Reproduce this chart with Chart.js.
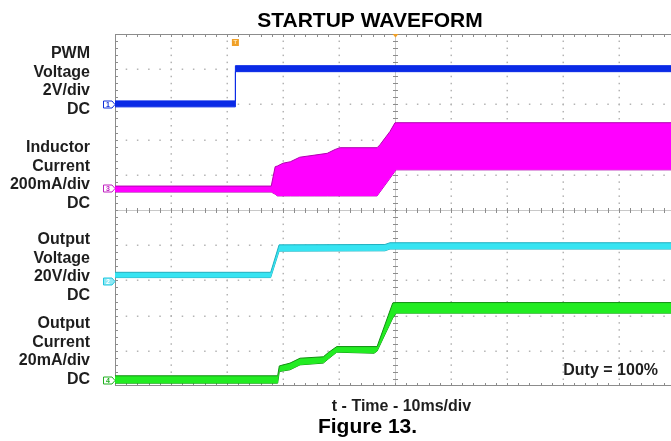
<!DOCTYPE html>
<html>
<head>
<meta charset="utf-8">
<script src="https://cdn.jsdelivr.net/npm/chart.js@4.4.0/dist/chart.umd.min.js"></script>
<style>
  html, body { margin: 0; padding: 0; background: #fff; overflow: hidden; }
  canvas { display: block; }
</style>
</head>
<body>
<canvas id="scope" width="680" height="441"></canvas>
<script>
// time in ms (10 ms/div), levels in screen divisions from the bottom of the graticule
const pwmTime   = [0, 21.5, 21.5, 100];
const pwmTop    = [8.10, 8.10, 9.10, 9.10];
const pwmBottom = [7.93, 7.93, 8.93, 8.93];

const inductorTime   = [0, 27.9, 28.6, 29.0, 30.0, 31.3, 33.0, 35.7, 37.9, 39.3, 40.2, 46.8, 47.3, 49.1, 50.0, 50.2, 100];
const inductorTop    = [5.68, 5.68, 6.23, 6.25, 6.33, 6.37, 6.50, 6.56, 6.61, 6.72, 6.77, 6.77, 6.85, 7.23, 7.48, 7.48, 7.48];
const inductorBottom = [5.51, 5.51, 5.45, 5.40, 5.40, 5.40, 5.40, 5.40, 5.40, 5.40, 5.40, 5.40, 5.51, 5.90, 6.10, 6.14, 6.14];

const voutTime   = [0, 27.8, 29.3, 48.2, 49.1, 100];
const voutTop    = [3.23, 3.23, 4.01, 4.02, 4.07, 4.07];
const voutBottom = [3.08, 3.08, 3.83, 3.84, 3.89, 3.89];

const ioutTime   = [0, 29.05, 29.34, 31.25, 33.04, 37.2, 38.1, 39.6, 46.25, 46.8, 49.6, 50.2, 100];
const ioutTop    = [0.29, 0.29, 0.57, 0.65, 0.79, 0.83, 0.95, 1.12, 1.12, 1.12, 2.36, 2.37, 2.37];
const ioutBottom = [0.08, 0.08, 0.41, 0.46, 0.60, 0.65, 0.77, 0.96, 0.93, 0.99, 1.93, 2.07, 2.07];

// ground markers on the left edge
const channelNames  = ['1', '3', '2', '4'];
const channelLevels = [8.0, 5.63, 2.98, 0.16];
const channelColors = ['#1030d8', '#c020c0', '#20c8e0', '#20b020'];

const triggerTime = 21.5;
const triggerPos = 50;

const sideLabels = [
  ['PWM', 'Voltage', '2V/div', 'DC'],
  ['Inductor', 'Current', '200mA/div', 'DC'],
  ['Output', 'Voltage', '20V/div', 'DC'],
  ['Output', 'Current', '20mA/div', 'DC']
];
const sideLabelTops = [58.3, 152.3, 244, 328.3];

const FONT = '"Liberation Sans", Arial, Helvetica, sans-serif';

function band(name, time, top, bottom, fillColor, edgeColor) {
  const pts = (arr) => time.map((t, i) => ({ x: t, y: arr[i] }));
  return [
    { label: name + ' top', data: pts(top), borderColor: edgeColor, borderWidth: 1, backgroundColor: fillColor, fill: '+1' },
    { label: name + ' bottom', data: pts(bottom), borderColor: edgeColor, borderWidth: 1, fill: false }
  ];
}

// scope graticule, drawn under the traces
const graticule = {
  id: 'graticule',
  beforeDatasetsDraw(chart) {
    const ctx = chart.ctx, sx = chart.scales.x, sy = chart.scales.y;
    const ca = chart.chartArea;
    ctx.save();
    // dotted grid lines
    ctx.fillStyle = '#b4b4b4';
    for (let i = 1; i < 10; i++) {
      const px = Math.round(sx.getPixelForValue(i * 10));
      const py = Math.round(sy.getPixelForValue(i));
      for (let j = 1; j < 50; j++) {
        const my = sy.getPixelForValue(j / 5);
        const mx = sx.getPixelForValue(j * 2);
        if (i !== 5) {
          ctx.fillRect(px - 0.5, my - 0.5, 1.5, 1.5);
          ctx.fillRect(mx - 0.5, py - 0.5, 1.5, 1.5);
        }
      }
    }
    // centre axes
    const cx = Math.round(sx.getPixelForValue(50)) + 0.5;
    const cy = Math.round(sy.getPixelForValue(5)) + 0.5;
    ctx.strokeStyle = '#c8c8c8';
    ctx.lineWidth = 1;
    ctx.beginPath();
    ctx.moveTo(cx, ca.top); ctx.lineTo(cx, ca.bottom);
    ctx.moveTo(ca.left, cy); ctx.lineTo(ca.right, cy);
    ctx.stroke();
    ctx.strokeStyle = '#8c8c8c';
    ctx.beginPath();
    for (let j = 1; j < 50; j++) {
      const mx = Math.round(sx.getPixelForValue(j * 2)) + 0.5;
      const my = Math.round(sy.getPixelForValue(j / 5)) + 0.5;
      ctx.moveTo(mx, cy - 2.5); ctx.lineTo(mx, cy + 2.5);
      ctx.moveTo(cx - 2.5, my); ctx.lineTo(cx + 2.5, my);
      // frame ticks
      ctx.moveTo(mx, ca.top); ctx.lineTo(mx, ca.top + 3);
      ctx.moveTo(mx, ca.bottom); ctx.lineTo(mx, ca.bottom - 3);
      ctx.moveTo(ca.left, my); ctx.lineTo(ca.left + 3, my);
    }
    ctx.stroke();
    // frame
    ctx.strokeStyle = '#8c8c8c';
    ctx.strokeRect(Math.round(ca.left) + 0.5, Math.round(ca.top) + 0.5, ca.width, Math.round(ca.height) - 1);
    ctx.restore();
  },
  afterDraw(chart) {
    const ctx = chart.ctx, sx = chart.scales.x, sy = chart.scales.y;
    const ca = chart.chartArea;
    ctx.save();
    // ground markers
    channelLevels.forEach((lv, i) => {
      const y = Math.round(sy.getPixelForValue(lv)) + 0.5;
      const x0 = ca.left - 11.5;
      ctx.beginPath();
      ctx.moveTo(x0, y - 3.5);
      ctx.lineTo(ca.left - 3, y - 3.5);
      ctx.lineTo(ca.left, y);
      ctx.lineTo(ca.left - 3, y + 3.5);
      ctx.lineTo(x0, y + 3.5);
      ctx.closePath();
      ctx.fillStyle = channelNames[i] === '2' ? '#8ee8f4' : '#fff';
      ctx.fill();
      ctx.strokeStyle = channelColors[i];
      ctx.lineWidth = 1;
      ctx.stroke();
      ctx.fillStyle = channelNames[i] === '2' ? '#fff' : channelColors[i];
      ctx.font = 'bold 7px ' + FONT;
      ctx.textAlign = 'center';
      ctx.textBaseline = 'middle';
      ctx.fillText(channelNames[i], x0 + 4.5, y + 0.5);
    });
    // trigger markers
    const tx = sx.getPixelForValue(triggerTime);
    ctx.fillStyle = '#f0a028';
    ctx.fillRect(tx - 3.5, ca.top + 5, 7, 7);
    ctx.fillStyle = '#ffe6b0';
    ctx.font = 'bold 6px ' + FONT;
    ctx.textAlign = 'center';
    ctx.textBaseline = 'middle';
    ctx.fillText('T', tx, ca.top + 8.8);
    const px = sx.getPixelForValue(triggerPos) + 0.5;
    ctx.fillStyle = '#f0a028';
    ctx.beginPath();
    ctx.moveTo(px - 3, ca.top);
    ctx.lineTo(px + 3, ca.top);
    ctx.lineTo(px, ca.top + 3.5);
    ctx.closePath();
    ctx.fill();

    // texts
    ctx.textBaseline = 'alphabetic';
    ctx.fillStyle = '#000';
    ctx.font = 'bold 21px ' + FONT;
    ctx.textAlign = 'center';
    ctx.fillText('STARTUP WAVEFORM', 370, 26.7);

    ctx.fillStyle = '#1e1e1e';
    ctx.font = 'bold 16px ' + FONT;
    ctx.textAlign = 'right';
    sideLabels.forEach((lines, b) => {
      lines.forEach((ln, k) => ctx.fillText(ln, 90, sideLabelTops[b] + k * 18.5));
    });
    ctx.fillText('Duty = 100%', 658, 375);

    ctx.textAlign = 'center';
    ctx.font = 'bold 16px ' + FONT;
    ctx.fillText('t - Time - 10ms/div', 401.5, 410.7);
    ctx.fillStyle = '#000';
    ctx.font = 'bold 21px ' + FONT;
    ctx.fillText('Figure 13.', 367.5, 433);
    ctx.restore();
  }
};

const datasets = [
  ...band('PWM Voltage', pwmTime, pwmTop, pwmBottom, '#0a2ae6', '#0a2ae6'),
  ...band('Inductor Current', inductorTime, inductorTop, inductorBottom, '#ff00ff', '#b000b0'),
  ...band('Output Voltage', voutTime, voutTop, voutBottom, '#36e4f2', '#20b0c0'),
  ...band('Output Current', ioutTime, ioutTop, ioutBottom, '#22ec22', '#109010')
];

new Chart(document.getElementById('scope').getContext('2d'), {
  type: 'line',
  data: { datasets: datasets },
  options: {
    responsive: false,
    animation: false,
    layout: { padding: { left: 115, right: 5, top: 34, bottom: 55 } },
    elements: { point: { radius: 0 }, line: { tension: 0 } },
    plugins: { legend: { display: false }, tooltip: { enabled: false } },
    scales: {
      x: { type: 'linear', min: 0, max: 100, display: false },
      y: { type: 'linear', min: 0, max: 10, display: false }
    }
  },
  plugins: [graticule]
});
</script>
</body>
</html>
